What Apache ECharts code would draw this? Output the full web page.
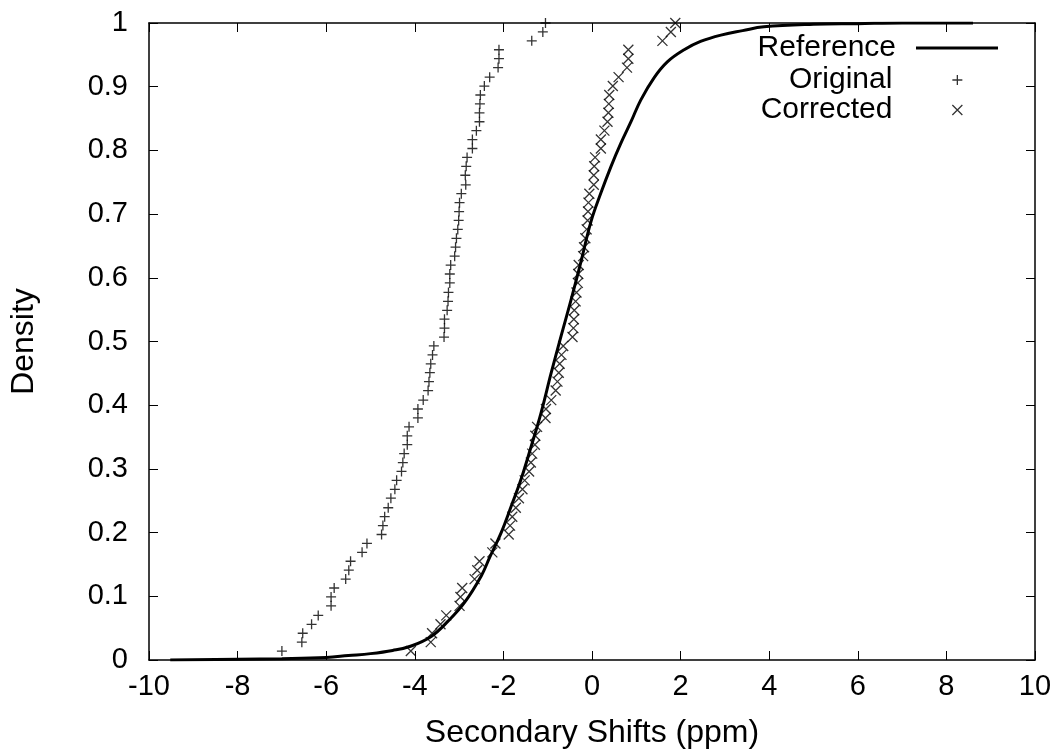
<!DOCTYPE html>
<html>
<head>
<meta charset="utf-8">
<title>Secondary Shifts</title>
<script src="https://cdn.jsdelivr.net/npm/echarts@6/dist/echarts.min.js"></script>
<style>
  html, body { margin: 0; padding: 0; background: #fff; }
  #chart { width: 1058px; height: 754px; }
</style>
</head>
<body>
<div id="chart"></div>
<script>
// x ticks / y ticks
const xTicks = [-10, -8, -6, -4, -2, 0, 2, 4, 6, 8, 10];
const yTicks = [0, 0.1, 0.2, 0.3, 0.4, 0.5, 0.6, 0.7, 0.8, 0.9, 1];

// reference distribution (cumulative)
const refX = [-9.52, -8, -7, -6, -5.5, -5, -4.5, -4.08, -3.63, -3.25, -2.88, -2.5, -2.31, -2.05,
  -1.82, -1.6, -1.37, -1.15, -0.92, -0.7, -0.47, -0.25, -0.02, 0.2, 0.43, 0.65, 0.88, 1.1,
  1.4, 1.7, 2.08, 2.45, 2.91, 3.4, 3.88, 5, 6, 7, 8.6];
const refY = [0, 0.001, 0.002, 0.004, 0.007, 0.01, 0.015, 0.022, 0.037, 0.061, 0.09, 0.132, 0.161, 0.2,
  0.242, 0.284, 0.336, 0.388, 0.451, 0.508, 0.566, 0.625, 0.689, 0.733, 0.775, 0.811, 0.845, 0.879,
  0.914, 0.939, 0.958, 0.971, 0.981, 0.988, 0.994, 0.998, 0.999, 1, 1];

// cumulative fraction of the 71 shifts (same for both point sets)
const cumFrac = [0.014, 0.028, 0.042, 0.056, 0.070, 0.085, 0.099, 0.113, 0.127, 0.141,
  0.155, 0.169, 0.183, 0.197, 0.211, 0.225, 0.239, 0.254, 0.268, 0.282,
  0.296, 0.310, 0.324, 0.338, 0.352, 0.366, 0.380, 0.394, 0.408, 0.423,
  0.437, 0.451, 0.465, 0.479, 0.493, 0.507, 0.521, 0.535, 0.549, 0.563,
  0.577, 0.592, 0.606, 0.620, 0.634, 0.648, 0.662, 0.676, 0.690, 0.704,
  0.718, 0.732, 0.746, 0.761, 0.775, 0.789, 0.803, 0.817, 0.831, 0.845,
  0.859, 0.873, 0.887, 0.901, 0.915, 0.930, 0.944, 0.958, 0.972, 0.986, 1.0];

// original shifts (ppm)
const originalX = [-7.0, -6.55, -6.53, -6.33, -6.18, -5.89, -5.89, -5.82, -5.56, -5.49,
  -5.45, -5.19, -5.08, -4.75, -4.72, -4.68, -4.60, -4.54, -4.45, -4.41,
  -4.30, -4.27, -4.24, -4.17, -4.17, -4.13, -3.93, -3.93, -3.81, -3.70,
  -3.68, -3.66, -3.64, -3.60, -3.57, -3.34, -3.33, -3.33, -3.27, -3.25,
  -3.24, -3.21, -3.21, -3.19, -3.10, -3.08, -3.06, -3.03, -3.01, -3.00,
  -2.99, -2.95, -2.85, -2.86, -2.84, -2.82, -2.70, -2.70, -2.61, -2.54,
  -2.54, -2.53, -2.52, -2.43, -2.31, -2.12, -2.10, -2.10, -1.36, -1.11, -1.05];

// corrected shifts (ppm)
const correctedX = [-4.09, -3.64, -3.61, -3.42, -3.29, -2.99, -2.97, -2.93, -2.65, -2.59,
  -2.54, -2.25, -2.18, -1.88, -1.85, -1.80, -1.72, -1.65, -1.57, -1.52,
  -1.42, -1.38, -1.35, -1.29, -1.28, -1.24, -1.05, -1.04, -0.92, -0.82,
  -0.78, -0.75, -0.73, -0.69, -0.65, -0.44, -0.42, -0.41, -0.40, -0.37,
  -0.35, -0.32, -0.31, -0.30, -0.20, -0.18, -0.15, -0.12, -0.10, -0.09,
  -0.08, -0.06, 0.04, 0.04, 0.05, 0.07, 0.20, 0.20, 0.28, 0.35,
  0.37, 0.38, 0.39, 0.47, 0.60, 0.79, 0.82, 0.82, 1.59, 1.78, 1.88];

const FONT = '"Liberation Sans", Arial, sans-serif';
const plusPath = 'path://M0,5L10,5M5,0L5,10';
const crossPath = 'path://M0,0L10,10M0,10L10,0';

const chart = echarts.init(document.getElementById('chart'), null, { renderer: 'canvas' });

function pairs(xs, ys) {
  return xs.map((x, i) => [x, ys[i]]);
}

const axisLine = { show: true, onZero: false, lineStyle: { color: '#000', width: 1.5 } };
const tick = { show: true, inside: true, length: 9, lineStyle: { color: '#000', width: 1 } };
const labelStyle = { color: '#000', fontSize: 29, fontFamily: FONT };
const nameStyle = { color: '#000', fontSize: 32, fontFamily: FONT };
const legendText = { color: '#000', fontSize: 30, fontFamily: FONT };
const markerStyle = { color: 'transparent', borderColor: '#000', borderWidth: 1.3 };

const option = {
  animation: false,
  backgroundColor: '#fff',
  grid: { left: 147, right: 23, top: 23, bottom: 93 },
  xAxis: [
    {
      type: 'value', min: xTicks[0], max: xTicks[xTicks.length - 1], interval: 2,
      name: 'Secondary Shifts (ppm)', nameLocation: 'middle', nameGap: 57,
      nameTextStyle: nameStyle,
      axisLine: axisLine, axisTick: tick,
      axisLabel: Object.assign({ margin: 12 }, labelStyle),
      splitLine: { show: false }
    },
    {
      type: 'value', position: 'top', min: xTicks[0], max: xTicks[xTicks.length - 1], interval: 2,
      axisLine: axisLine, axisTick: tick, axisLabel: { show: false }, splitLine: { show: false }
    }
  ],
  yAxis: [
    {
      type: 'value', min: yTicks[0], max: yTicks[yTicks.length - 1], interval: 0.1,
      name: 'Density', nameLocation: 'middle', nameGap: 109,
      nameTextStyle: nameStyle,
      axisLine: axisLine, axisTick: tick,
      axisLabel: Object.assign({ margin: 21 }, labelStyle),
      splitLine: { show: false }
    },
    {
      type: 'value', position: 'right', min: yTicks[0], max: yTicks[yTicks.length - 1], interval: 0.1,
      axisLine: axisLine, axisTick: tick, axisLabel: { show: false }, splitLine: { show: false }
    }
  ],
  legend: [
    {
      data: [{ name: 'Reference', icon: 'rect', itemStyle: { color: '#000' } }],
      orient: 'vertical', align: 'right', padding: 0,
      right: 60, top: 33, itemWidth: 82, itemHeight: 3,
      textStyle: Object.assign({ padding: [0, 15, 0, 0] }, legendText)
    },
    {
      data: [{ name: 'Original', icon: plusPath, itemStyle: markerStyle }],
      orient: 'vertical', align: 'right', padding: 0,
      right: 95, top: 65, itemWidth: 10, itemHeight: 10,
      textStyle: Object.assign({ padding: [0, 55, 0, 0] }, legendText)
    },
    {
      data: [{ name: 'Corrected', icon: crossPath, itemStyle: markerStyle }],
      orient: 'vertical', align: 'right', padding: 0,
      right: 95, top: 95, itemWidth: 10, itemHeight: 10,
      textStyle: Object.assign({ padding: [0, 55, 0, 0] }, legendText)
    }
  ],
  series: [
    {
      name: 'Reference', type: 'line', symbol: 'none', smooth: 0.4,
      data: pairs(refX, refY),
      lineStyle: { color: '#000', width: 3 },
      itemStyle: { color: '#000' },
      z: 3
    },
    {
      name: 'Original', type: 'scatter', symbol: plusPath, symbolSize: 10,
      data: pairs(originalX, cumFrac),
      itemStyle: markerStyle,
      z: 4
    },
    {
      name: 'Corrected', type: 'scatter', symbol: crossPath, symbolSize: 10,
      data: pairs(correctedX, cumFrac),
      itemStyle: markerStyle,
      z: 4
    }
  ]
};

chart.setOption(option);
</script>
</body>
</html>
